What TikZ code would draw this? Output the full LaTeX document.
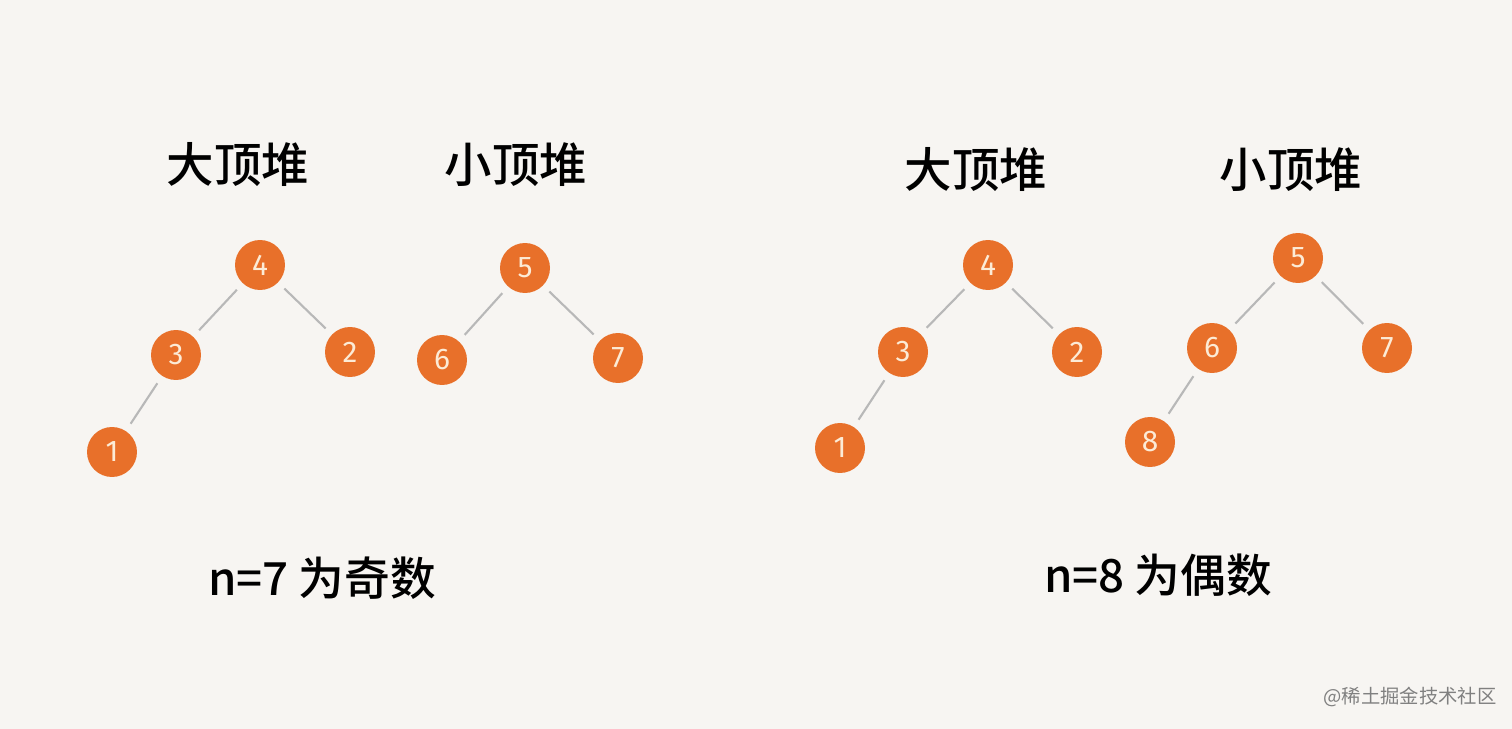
\documentclass[tikz,border=0pt]{standalone}
\usepackage{fontspec}
\usepackage{tikz}
\usetikzlibrary{positioning}
\newfontfamily\cjk{Noto Sans CJK SC}
\newfontfamily\cjkbold{Noto Sans CJK SC Medium}
\setsansfont{Fira Sans}
\definecolor{heaporange}{HTML}{E8702A}
\definecolor{paper}{HTML}{F7F5F2}
\definecolor{edgegray}{HTML}{B8B8B8}
\definecolor{numcream}{HTML}{FCEBD6}

\begin{document}
\begin{tikzpicture}[x=0.02cm, y=-0.02cm,
  elem/.style={circle, fill=heaporange, minimum size=1cm, inner sep=0pt, text=numcream, font=\sffamily\fontsize{17}{17}\selectfont},
  link/.style={draw=edgegray, line width=1.2pt, shorten >=0.17cm, shorten <=0.17cm},
  title/.style={font=\cjkbold\fontsize{27}{27}\selectfont},
  caption/.style={font=\cjkbold\fontsize{26}{26}\selectfont}]

  % Background and page size
\fill[paper] (0,0) rectangle (1512,729); \useasboundingbox (0,0) rectangle (1512,729);

  % Titles
\node[title] (t1) at (238,165) {大顶堆}; \node[title] (t2) at (516,165) {小顶堆}; \node[title] (t3) at (976,170) {大顶堆}; \node[title] (t4) at (1291,170) {小顶堆};

  % Define coordinates for nodes
\node[elem] (a4) at (260,265) {4}; \node[elem] (a3) at (176,355) {3}; \node[elem] (a2) at (350,352) {2}; \node[elem] (a1) at (112,452) {1};
\node[elem] (b5) at (525,268) {5}; \node[elem] (b6) at (442,360) {6}; \node[elem] (b7) at (618,358) {7};
\node[elem] (c4) at (988,265) {4}; \node[elem] (c3) at (903,352) {3}; \node[elem] (c2) at (1077,352) {2}; \node[elem] (c1) at (840,448) {1};
\node[elem] (d5) at (1298,258) {5}; \node[elem] (d6) at (1212,348) {6}; \node[elem] (d7) at (1387,348) {7}; \node[elem] (d8) at (1150,442) {8};

  % Draw edges between nodes
\draw[link] (a4) to (a3); \draw[link] (a4) to (a2); \draw[link] (a3) to (a1);
\draw[link] (b5) to (b6); \draw[link] (b5) to (b7);
\draw[link] (c4) to (c3); \draw[link] (c4) to (c2); \draw[link] (c3) to (c1);
\draw[link] (d5) to (d6); \draw[link] (d5) to (d7); \draw[link] (d6) to (d8);

  % Captions
\node[caption] (odd) at (322,578) {n=7 为奇数}; \node[caption] (even) at (1158,575) {n=8 为偶数};
\node[font=\cjk\fontsize{11}{11}\selectfont, text=gray] (mark) at (1410,697) {@稀土掘金技术社区};

\end{tikzpicture}
\end{document}
